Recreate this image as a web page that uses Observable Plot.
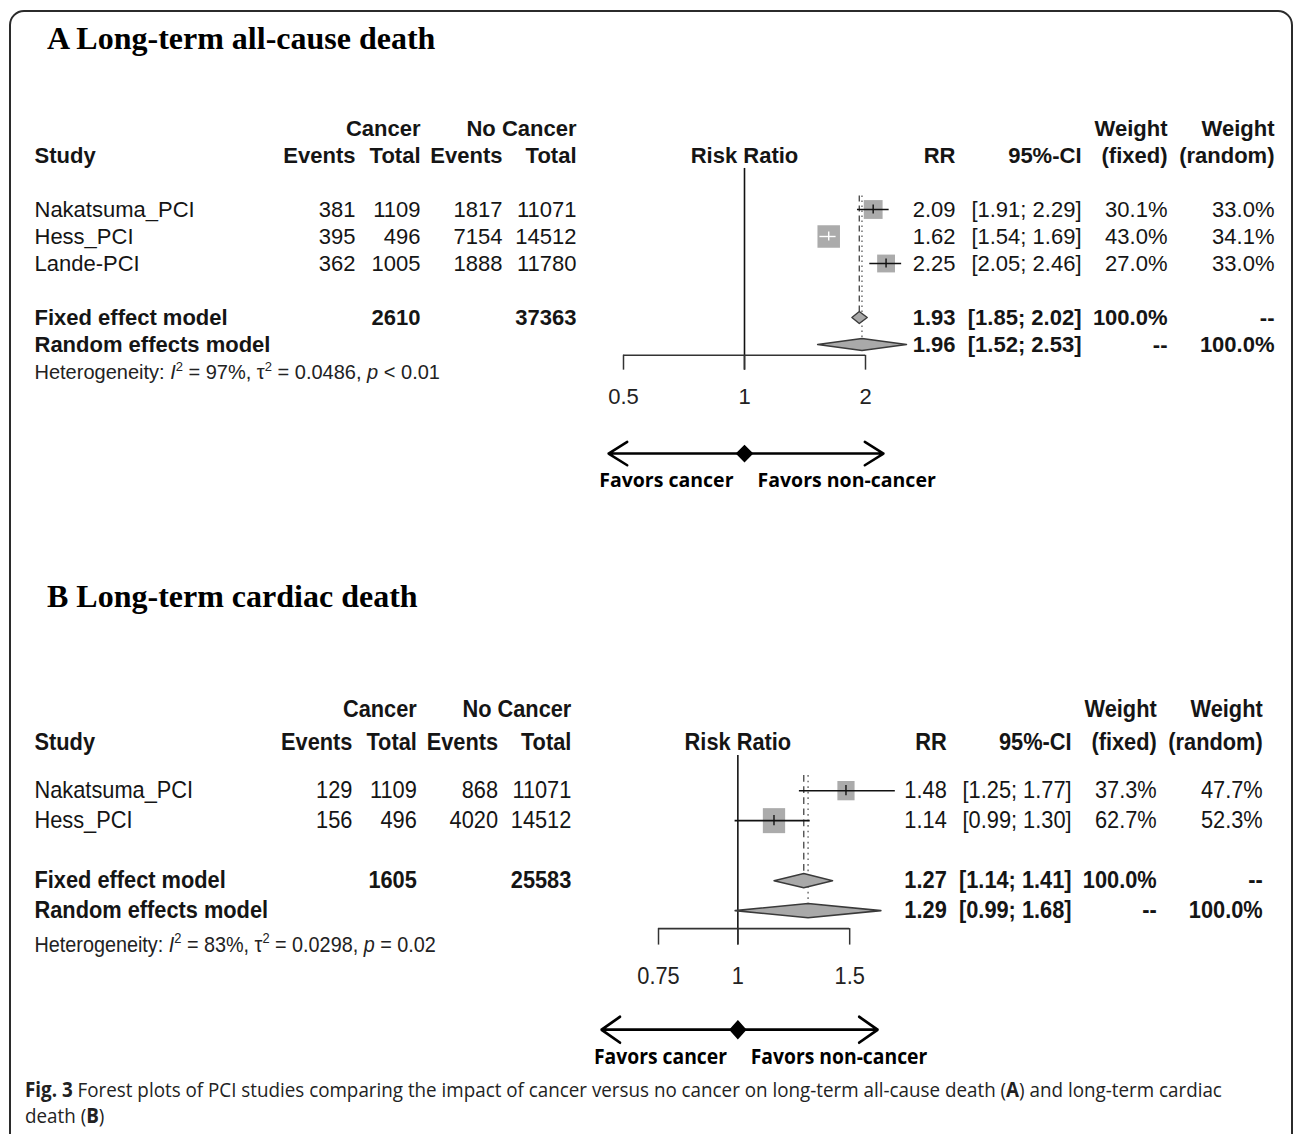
<!DOCTYPE html>
<html><head><meta charset="utf-8">
<script src="https://cdn.jsdelivr.net/npm/d3@7"></script>
<script src="https://cdn.jsdelivr.net/npm/@observablehq/plot@0.6"></script>
<style>
html,body{margin:0;padding:0;background:#fff;width:1295px;height:1134px;overflow:hidden;}
#frame{position:absolute;left:9px;top:10px;width:1284px;height:1300px;box-sizing:border-box;border:2px solid #2b2b2b;border-radius:15px;}
.title{position:absolute;left:47px;font-family:"Liberation Serif","Times New Roman",serif;font-weight:bold;font-size:32px;line-height:32px;color:#000;white-space:nowrap;}
.panel{position:absolute;left:0;width:1295px;}
#caption{position:absolute;left:25px;top:1076px;font-family:"Open Sans",sans-serif;font-size:20.5px;line-height:26px;color:#222;white-space:nowrap;transform-origin:0 0;}
</style></head><body>
<div id="frame"></div>
<div class="title" style="top:22px">A Long-term all-cause death</div>
<div class="title" style="top:580px">B Long-term cardiac death</div>
<div class="panel" id="panelA" style="top:100px"></div>
<div class="panel" id="panelB" style="top:669px;transform:scale(0.9905,1.111);transform-origin:34px 0;"></div>
<div id="caption"><b>Fig. 3</b> Forest plots of PCI studies comparing the impact of cancer versus no cancer on long-term all-cause death (<b>A</b>) and long-term cardiac<br>death (<b>B</b>)</div>
<script>
// ---------- Panel A data: long-term all-cause death ----------
const studiesA = ["Nakatsuma_PCI", "Hess_PCI", "Lande-PCI"];
const cancerEventsA = [381, 395, 362];
const cancerTotalA = [1109, 496, 1005];
const noCancerEventsA = [1817, 7154, 1888];
const noCancerTotalA = [11071, 14512, 11780];
const rrA = [2.09, 1.62, 2.25];
const lowerA = [1.91, 1.54, 2.05];
const upperA = [2.29, 1.69, 2.46];
const weightFixedA = [30.1, 43.0, 27.0];
const weightRandomA = [33.0, 34.1, 33.0];
const pooledTotalsA = [2610, 37363];
const fixedA = [1.93, 1.85, 2.02];    // estimate, lower, upper
const randomA = [1.96, 1.52, 2.53];
const heterogeneityA = ["97%", "0.0486", "<", "0.01"];
const ticksA = [0.5, 1, 2];

// ---------- Panel B data: long-term cardiac death ----------
const studiesB = ["Nakatsuma_PCI", "Hess_PCI"];
const cancerEventsB = [129, 156];
const cancerTotalB = [1109, 496];
const noCancerEventsB = [868, 4020];
const noCancerTotalB = [11071, 14512];
const rrB = [1.48, 1.14];
const lowerB = [1.25, 0.99];
const upperB = [1.77, 1.30];
const weightFixedB = [37.3, 62.7];
const weightRandomB = [47.7, 52.3];
const pooledTotalsB = [1605, 25583];
const fixedB = [1.27, 1.14, 1.41];
const randomB = [1.29, 0.99, 1.68];
const heterogeneityB = ["83%", "0.0298", "=", "0.02"];
const ticksB = [0.75, 1, 1.5];

const favorsLabels = ["Favors cancer", "Favors non-cancer"];

// ---------- layout (positions / styles) ----------
const colX = {study:34, ce:355, ct:420, ne:502, nt:576, rr:955, ci:1081, wf:1167, wr:1274};
const layoutA = {domain:[0.5,2], range:[623,865], hdr:[-3,-2], refTop:-1.52, axisRow:5.4, tickLabelRow:6.96, hetRow:6.04, arrowRow:9.04, favorsRow:10.04, arrowSpan:[0.459,2.217], dh:0.22};
const layoutB = {domain:[0.75,1.5], range:[664,857], hdr:[-2.7,-1.63], refTop:-1.17, axisRow:4.6, tickLabelRow:6.17, hetRow:5.13, arrowRow:7.97, favorsRow:8.87, arrowSpan:[0.61,1.66], dh:0.24};

const f2 = v => v.toFixed(2);
const fci = (lo, hi) => `[${f2(lo)}; ${f2(hi)}]`;
const pct = w => w.toFixed(1) + "%";

function forest(d, L) {
  const rows = d.studies.map((s, i) => ({study:s, ce:d.ce[i], ct:d.ct[i], ne:d.ne[i], nt:d.nt[i],
    rr:d.rr[i], lo:d.lo[i], hi:d.hi[i], wf:d.wf[i], wr:d.wr[i], row:i}));
  const n = rows.length;
  const fixedRow = n + 1, randomRow = n + 2;
  const maxSide = 22.5;
  const wmax = d3.max(d.wf);
  const pxPerLn = (L.range[1] - L.range[0]) / Math.log(L.domain[1] / L.domain[0]);
  rows.forEach(r => { r.inside = Math.log(r.hi / r.lo) * pxPerLn < maxSide * Math.sqrt(r.wf / wmax); });

  const cells = [];
  const add = (col, row, text, bold) => cells.push({col, row, text: String(text), bold});
  add("ct", L.hdr[0], "Cancer", true); add("nt", L.hdr[0], "No Cancer", true);
  add("wf", L.hdr[0], "Weight", true); add("wr", L.hdr[0], "Weight", true);
  [["study","Study"],["ce","Events"],["ct","Total"],["ne","Events"],["nt","Total"],["rr","RR"],["ci","95%-CI"],["wf","(fixed)"],["wr","(random)"]]
    .forEach(([c, t]) => add(c, L.hdr[1], t, true));
  rows.forEach(r => {
    add("study", r.row, r.study, false); add("ce", r.row, r.ce, false); add("ct", r.row, r.ct, false);
    add("ne", r.row, r.ne, false); add("nt", r.row, r.nt, false); add("rr", r.row, f2(r.rr), false);
    add("ci", r.row, fci(r.lo, r.hi), false); add("wf", r.row, pct(r.wf), false); add("wr", r.row, pct(r.wr), false);
  });
  add("study", fixedRow, "Fixed effect model", true); add("ct", fixedRow, d.pooled[0], true); add("nt", fixedRow, d.pooled[1], true);
  add("rr", fixedRow, f2(d.fixed[0]), true); add("ci", fixedRow, fci(d.fixed[1], d.fixed[2]), true);
  add("wf", fixedRow, "100.0%", true); add("wr", fixedRow, "--", true);
  add("study", randomRow, "Random effects model", true);
  add("rr", randomRow, f2(d.random[0]), true); add("ci", randomRow, fci(d.random[1], d.random[2]), true);
  add("wf", randomRow, "--", true); add("wr", randomRow, "100.0%", true);

  const ink = "#151515";
  const marks = [];
  for (const col of Object.keys(colX)) for (const bold of [false, true]) {
    const data = cells.filter(c => c.col === col && c.bold === bold);
    if (!data.length) continue;
    marks.push(Plot.text(data, {y:"row", text:"text", frameAnchor:"left", dx:colX[col],
      textAnchor: col === "study" ? "start" : "end", fontWeight: bold ? "bold" : "normal", fontSize:22, fill:ink}));
  }
  // heterogeneity line (rich formatting applied after rendering)
  marks.push(Plot.text([d.het], {y:() => L.hetRow, text:h => `Heterogeneity: I2 = ${h[0]}, t2 = ${h[1]}, p ${h[2]} ${h[3]}`,
    frameAnchor:"left", dx:colX.study, textAnchor:"start", fontSize:20, fill:"#222"}));
  // "Risk Ratio" header
  marks.push(Plot.text(["Risk Ratio"], {x:() => 1, y:() => L.hdr[1], text:t => t, fontWeight:"bold", fontSize:22, fill:ink}));

  // reference line, axis, ticks
  const tickLen = 0.55;
  marks.push(Plot.ruleX([1], {x:v => v, y1:() => L.refTop, y2:() => L.axisRow + tickLen, stroke:"#111", strokeWidth:1.6}));
  marks.push(Plot.ruleY([L.axisRow], {y:v => v, x1:() => d.ticks[0], x2:() => d.ticks[d.ticks.length - 1], stroke:"#333", strokeWidth:1.5}));
  marks.push(Plot.ruleX(d.ticks, {x:v => v, y1:() => L.axisRow, y2:() => L.axisRow + tickLen, stroke:"#333", strokeWidth:1.5}));
  marks.push(Plot.text(d.ticks, {x:v => v, y:() => L.tickLabelRow, text:v => String(v), fontSize:22, fill:"#222"}));

  // pooled estimate lines
  marks.push(Plot.ruleX([d.fixed[0]], {x:v => v, y1:() => -0.5, y2:() => fixedRow - L.dh, stroke:"#444", strokeWidth:1.3, strokeDasharray:"6,4"}));
  marks.push(Plot.ruleX([d.random[0]], {x:v => v, y1:() => -0.5, y2:() => randomRow - L.dh, stroke:"#666", strokeWidth:1.4, strokeDasharray:"1.5,3.5"}));

  // study squares, CIs, estimate ticks
  marks.push(Plot.dot(rows, {x:"rr", y:"row", r:"wf", symbol:"square", fill:"#ababab", stroke:"none"}));
  for (const [inside, col] of [[false, "#111"], [true, "#fff"]]) {
    const sub = rows.filter(r => r.inside === inside);
    if (!sub.length) continue;
    marks.push(Plot.ruleY(sub, {y:"row", x1:"lo", x2:"hi", stroke:col, strokeWidth:1.4}));
    marks.push(Plot.ruleX(sub, {x:"rr", y1:r => r.row - 0.17, y2:r => r.row + 0.17, stroke:col, strokeWidth:1.4}));
  }

  // pooled diamonds
  const pts = [["fixed", fixedRow, d.fixed], ["random", randomRow, d.random]].flatMap(([m, row, v]) => [
    {m, x:v[1], y:row}, {m, x:v[0], y:row - L.dh}, {m, x:v[2], y:row}, {m, x:v[0], y:row + L.dh}]);
  marks.push(Plot.line(pts, {x:"x", y:"y", z:"m", curve:"linear-closed", fill:"#a9a9a9", stroke:"#3a3a3a", strokeWidth:1.4}));

  // favours annotation (headLength is relative to the default 1.5 stroke width)
  const sw = 2.5;
  marks.push(Plot.arrow([{a:1, b:L.arrowSpan[0]}, {a:1, b:L.arrowSpan[1]}], {x1:"a", x2:"b", y1:() => L.arrowRow, y2:() => L.arrowRow,
    bend:0, headLength:22 * 1.5 / sw, headAngle:64, stroke:"#000", strokeWidth:sw}));
  marks.push(Plot.dot([1], {x:v => v, y:() => L.arrowRow, symbol:"diamond2", r:7, fill:"#000", stroke:"#000"}));
  marks.push(Plot.text([favorsLabels[0]], {x:() => 1, y:() => L.favorsRow, text:t => t, dx:-11, textAnchor:"end",
    fontFamily:"Open Sans", fontWeight:"bold", fontSize:19.5, fill:"#000"}));
  marks.push(Plot.text([favorsLabels[1]], {x:() => 1, y:() => L.favorsRow, text:t => t, dx:13, textAnchor:"start",
    fontFamily:"Open Sans", fontWeight:"bold", fontSize:19.5, fill:"#000"}));

  const svg = Plot.plot({
    width:1295, height:410, margin:0,
    x:{type:"log", domain:L.domain, range:L.range, axis:null},
    y:{domain:[-4, 11], range:[1, 406], axis:null},
    r:{type:"sqrt", domain:[0, wmax], range:[0, maxSide / Math.sqrt(Math.PI)]},
    style:{fontFamily:"'Liberation Sans', Arial, sans-serif", fontSize:"22px", color:ink, background:"transparent", overflow:"visible"},
    marks
  });
  // rich heterogeneity text
  const t = Array.from(svg.querySelectorAll("text")).find(e => e.textContent.startsWith("Heterogeneity"));
  if (t) {
    const h = d.het;
    const lt = h[2] === "<" ? "&lt;" : h[2];
    t.innerHTML = `Heterogeneity: <tspan font-style="italic">I</tspan><tspan dy="-8" font-size="13">2</tspan><tspan dy="8"> = ${h[0]}, τ</tspan><tspan dy="-8" font-size="13">2</tspan><tspan dy="8"> = ${h[1]}, </tspan><tspan font-style="italic">p</tspan><tspan> ${lt} ${h[3]}</tspan>`;
  }
  return svg;
}

document.getElementById("panelA").appendChild(forest({
  studies:studiesA, ce:cancerEventsA, ct:cancerTotalA, ne:noCancerEventsA, nt:noCancerTotalA,
  rr:rrA, lo:lowerA, hi:upperA, wf:weightFixedA, wr:weightRandomA, pooled:pooledTotalsA,
  fixed:fixedA, random:randomA, het:heterogeneityA, ticks:ticksA}, layoutA));
document.getElementById("panelB").appendChild(forest({
  studies:studiesB, ce:cancerEventsB, ct:cancerTotalB, ne:noCancerEventsB, nt:noCancerTotalB,
  rr:rrB, lo:lowerB, hi:upperB, wf:weightFixedB, wr:weightRandomB, pooled:pooledTotalsB,
  fixed:fixedB, random:randomB, het:heterogeneityB, ticks:ticksB}, layoutB));

// fit caption to the reference line width
const cap = document.getElementById("caption");
const w = cap.scrollWidth;
cap.style.transform = `scaleX(${1197 / w})`;
</script>
</body></html>
